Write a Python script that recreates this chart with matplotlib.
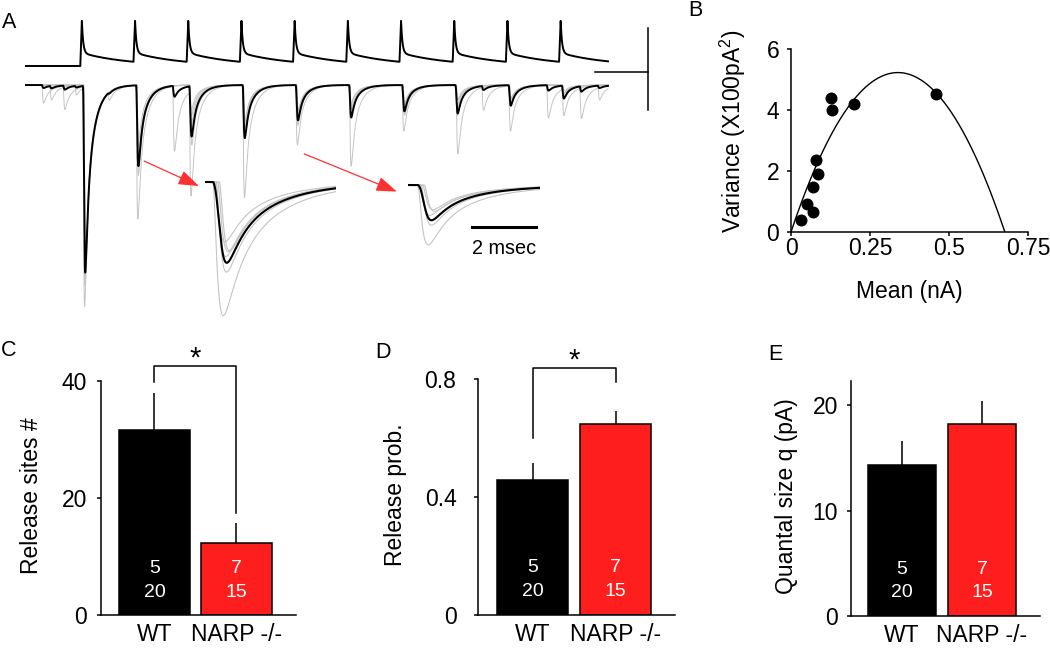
import numpy as np
import matplotlib.pyplot as plt
from matplotlib.transforms import blended_transform_factory

plt.rcParams['font.family'] = ['Liberation Sans', 'DejaVu Sans']
plt.rcParams['mathtext.fontset'] = 'custom'
plt.rcParams['mathtext.rm'] = 'Liberation Sans'
plt.rcParams['axes.linewidth'] = 1.1

# ---------------- A: 10 stimuli at 100 Hz ----------------
pulse_times = [10.5, 20.5, 30.5, 40.5, 50.5, 60.5, 70.5, 80.5, 90.5, 100.5]  # ms
trace_end = 109.4    # ms
spike_peak = 55.0    # mV
spike_after = 16.0   # mV just after each spike
# EPSC amplitude (nA) of each pulse (rows) in six sweeps (columns)
epsc_amps = [
    [2.70, 2.44, 2.26, 2.20, 2.32, 2.07],
    [1.63, 0.73, 1.10, 0.85, 0.91, 0.84],
    [1.35, 0.49, 0.37, 0.73, 0.30, 0.56],
    [0.49, 1.37, 0.61, 0.43, 0.55, 0.51],
    [0.73, 0.37, 0.49, 0.30, 0.43, 0.32],
    [0.24, 0.37, 0.99, 0.30, 0.24, 0.27],
    [0.56, 0.24, 0.30, 0.37, 0.27, 0.23],
    [0.30, 0.24, 0.37, 0.84, 0.18, 0.18],
    [0.18, 0.56, 0.24, 0.18, 0.22, 0.15],
    [0.12, 0.18, 0.33, 0.10, 0.15, 0.07],
]
sweep_latency = [0.20, 0.25, 0.30, 0.35, 0.28, 0.40]  # ms after spike
# spontaneous / asynchronous events
mini_sweep = [0, 1, 2, 3, 4, 5, 0, 2, 3, 1]
mini_time = [3.0, 4.5, 7.0, 9.2, 15.4, 27.6, 85.7, 97.9, 104.1, 107.5]
mini_amp = [0.22, 0.18, 0.30, 0.12, 0.10, 0.80, 0.30, 0.40, 0.40, 0.18]

# ---------------- B: variance-mean ----------------
mean_nA = [0.033, 0.050, 0.069, 0.069, 0.079, 0.087, 0.127, 0.131, 0.200, 0.459]
var_100pA2 = [0.40, 0.93, 0.65, 1.47, 2.37, 1.91, 4.39, 3.99, 4.19, 4.51]
fit_q = 3.09   # pA
fit_N = 219

# ---------------- C-E: bar charts ----------------
groups = ['WT', 'NARP -/-']
n_top = ['5', '7']
n_bottom = ['20', '15']
sites = [31.6, 12.3]
sites_err = [6.3, 3.4]
prob = [0.458, 0.647]
prob_err = [0.057, 0.043]
qsize = [14.3, 18.2]
qsize_err = [2.3, 2.2]

W, H = 1050, 650
fig = plt.figure(figsize=(10.5, 6.5), dpi=100)
RED = '#ff1e1e'
GRAY = '#c4c4c4'
FS = 16.5


def box(x0, y0, x1, y1):
    return [x0 / W, 1 - y1 / H, (x1 - x0) / W, (y1 - y0) / H]


def epsc_shape(t):
    s = np.clip(t, 0, None)
    return (1 - np.exp(-s / 0.12)) ** 2 * (0.55 * np.exp(-s / 0.5) + 0.45 * np.exp(-s / 1.6))


shape_peak = epsc_shape(np.linspace(0, 3, 3001)).max()


def sweep(t, j):
    y = np.zeros_like(t)
    for k, tk in enumerate(pulse_times):
        y -= epsc_amps[k][j] * epsc_shape(t - tk - sweep_latency[j]) / shape_peak
    for s, tm, a in zip(mini_sweep, mini_time, mini_amp):
        if s == j:
            y -= a * epsc_shape(t - tm) / shape_peak
    return y


def spike_trace(t):
    pt = np.array(pulse_times)
    idx = np.searchsorted(pt, t, side='right') - 1
    s = t - pt[np.clip(idx, 0, None)]
    v = np.where(idx >= 0,
                 (spike_peak - spike_after) * np.exp(-s / 0.25) + spike_after * np.exp(-s / 8.6),
                 0.0)
    d = pt[np.clip(idx + 1, 0, len(pt) - 1)] - t
    ramp = (idx + 1 < len(pt)) & (d < 0.3)
    return np.where(ramp, v + (spike_peak - v) * (1 - d / 0.3), v)


# ---- A main traces ----
axA = fig.add_axes(box(10, 5, 670, 325))
t = np.arange(0, trace_end, 0.01)
sweeps = np.array([sweep(t, j) for j in range(6)])
for y in sweeps:
    axA.plot(t, y, color=GRAY, lw=0.7)
axA.plot(t, sweeps.mean(axis=0), color='k', lw=1.4)
ap_offset = 0.232
mv_per_nA = 100.0
axA.plot(t, ap_offset + spike_trace(t) / mv_per_nA, color='k', lw=1.4)
# scale bar 10 ms / 1 nA (100 mV)
axA.plot([107, 117], [0.16, 0.16], color='k', lw=1.1)
axA.plot([117, 117], [-0.30, 0.70], color='k', lw=1.1)
arrow = dict(arrowstyle='-|>,head_length=0.9,head_width=0.32', color='#ff3030',
             lw=0.9, shrinkA=0, shrinkB=0, mutation_scale=14)
axA.annotate('', xy=(32.5, -1.232), xytext=(22.2, -0.927), arrowprops=arrow)
axA.annotate('', xy=(69.7, -1.30), xytext=(52.3, -0.84), arrowprops=arrow)
axA.set_xlim(-3.01, 121.05)
axA.set_ylim(-2.927, 0.976)
axA.axis('off')


def inset(px, k, t0, t1, ylim):
    ax = fig.add_axes(box(*px))
    ti = np.linspace(t0, t1, 800)
    lat0 = min(sweep_latency)
    ys = np.array([-epsc_amps[k][j] * epsc_shape(ti - (sweep_latency[j] - lat0)) / shape_peak
                   for j in range(6)])
    for y in ys:
        ax.plot(ti, y, color=GRAY, lw=0.8)
    ax.plot(ti, ys.mean(axis=0), color='k', lw=1.5)
    ax.set_xlim(t0, t1)
    ax.set_ylim(*ylim)
    ax.axis('off')
    return ax


inset((205, 170, 336, 325), 1, -0.25, 3.84, (-1.744, 0.146))
ax2 = inset((408, 170, 540, 325), 4, -0.31, 3.81, (-1.707, 0.183))
ax2.plot([1.69, 3.69], [-0.512, -0.512], color='k', lw=2.2)
ax2.text(2.69, -0.77, '2 msec', ha='center', va='center', fontsize=14.3)

# ---- B ----
axB = fig.add_axes(box(791, 49, 1028, 232))
axB.scatter(mean_nA, var_100pA2, s=58, color='k', zorder=3, clip_on=False)
I = np.linspace(0, fit_q * fit_N / 1000, 400)
axB.plot(I, (fit_q * I * 1000 - (I * 1000) ** 2 / fit_N) / 100, color='k', lw=1.0)
axB.set_xlim(0, 0.75)
axB.set_ylim(0, 6)
axB.set_xticks([0, 0.25, 0.5, 0.75])
axB.set_xticklabels(['0', '0.25', '0.5', '0.75'])
axB.set_yticks([0, 2, 4, 6])
axB.set_yticklabels(['0', '2', '4', '6'])
axB.tick_params(axis='x', direction='out', length=3, width=1.1, labelsize=FS, pad=0.5)
axB.tick_params(axis='y', direction='out', length=3, width=1.1, labelsize=FS, pad=5.5)
for sp in ['top', 'right']:
    axB.spines[sp].set_visible(False)
axB.set_xlabel('Mean (nA)', fontsize=FS)
axB.set_ylabel(r'Variance (X100pA$^\mathrm{2}$)', fontsize=FS)
axB.xaxis.set_label_coords(0.5, -0.26)
axB.yaxis.set_label_coords(-0.18, 0.55)


def bar_panel(px, vals, errs, ylim, ticks, ticklabels, ylabel, xlim, ypad, labx):
    ax = fig.add_axes(box(*px))
    x = [0, 1]
    ax.bar(x, vals, width=0.86, color=['k', RED], edgecolor='k', linewidth=1.1, zorder=2)
    ax.vlines(x, vals, np.array(vals) + np.array(errs), color='k', lw=1.1, zorder=3)
    tr = blended_transform_factory(ax.transData, ax.transAxes)
    for xi, a, b in zip(x, n_top, n_bottom):
        ax.text(xi, 0.20, a, color='w', ha='center', va='center', fontsize=14, transform=tr)
        ax.text(xi, 0.098, b, color='w', ha='center', va='center', fontsize=14, transform=tr)
    ax.set_xlim(*xlim)
    ax.set_ylim(*ylim)
    ax.set_xticks(x)
    ax.set_xticklabels(groups)
    ax.set_yticks(ticks)
    ax.set_yticklabels(ticklabels)
    ax.tick_params(axis='x', length=0, labelsize=FS, pad=5.5)
    ax.tick_params(axis='y', direction='out', length=3, width=1.1, labelsize=FS, pad=ypad)
    for sp in ['top', 'right']:
        ax.spines[sp].set_visible(False)
    ax.set_ylabel(ylabel, fontsize=FS)
    ax.yaxis.set_label_coords(labx, 0.51)
    return ax


def bracket(ax, top, left_bottom, right_bottom):
    ax.plot([0, 0, 1, 1], [left_bottom, top, top, right_bottom], color='k', lw=1.1,
            clip_on=False)
    ax.text(0.5, top, '*', ha='center', va='baseline', fontsize=21)


axC = bar_panel((101, 381, 296, 615), sites, sites_err, (0, 40), [0, 20, 40],
                ['0', '20', '40'], 'Release sites #', (-0.652, 1.726), 7, -0.30)
bracket(axC, 42.5, 39.9, 17.4)
axD = bar_panel((478, 379, 675, 615), prob, prob_err, (0, 0.8), [0, 0.4, 0.8],
                ['0', '0.4', '0.8'], 'Release prob.', (-0.657, 1.717), 12.5, -0.36)
bracket(axD, 0.837, 0.60, 0.79)
axE = bar_panel((851, 381, 1040, 616), qsize, qsize_err, (0, 22.3), [0, 10, 20],
                ['0', '10', '20'], 'Quantal size q (pA)', (-0.6375, 1.725), 6.5, -0.28)

for lab, x, y in [('A', 9, 23), ('B', 695, 11), ('C', 9, 351), ('D', 383, 352), ('E', 775, 355)]:
    fig.text(x / W, 1 - y / H, lab, ha='center', va='center', fontsize=15.5)

fig.savefig('out.png', dpi=100)
